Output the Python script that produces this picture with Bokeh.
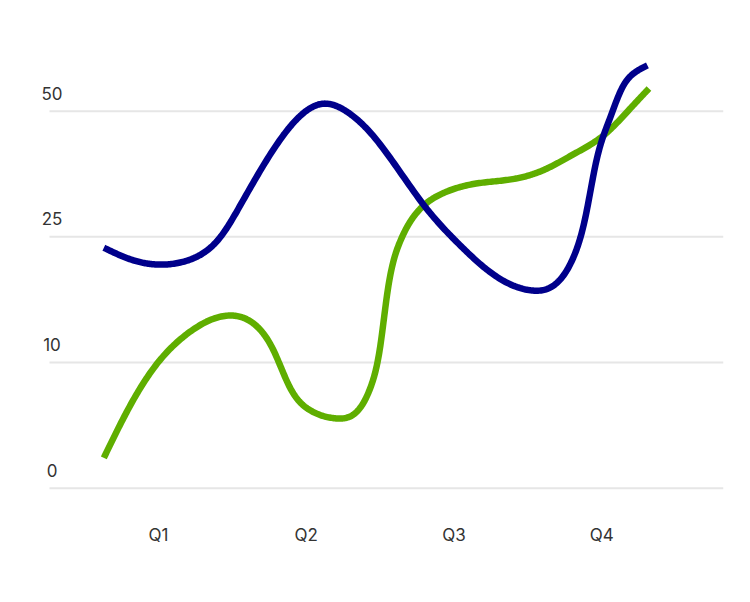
import numpy as np
from bokeh.plotting import figure
from bokeh.models import Range1d, LinearAxis, FixedTicker, Label
from bokeh.embed import file_html
from bokeh.resources import INLINE

# ---------------- data ----------------
quarter_ticks = [1, 2, 3, 4]
quarter_labels = ["Q1", "Q2", "Q3", "Q4"]
value_ticks = [0, 10, 25, 50]
value_labels = ["0", "10", "25", "50"]

blue_x = [0.63, 0.83, 0.99, 1.20, 1.33, 1.42, 1.56, 1.83, 1.98, 2.12, 2.27, 2.42, 2.81, 3.03, 3.26, 3.53, 3.69, 3.80, 3.89, 3.965, 4.05, 4.14, 4.23, 4.31]
blue_y = [23.7, 22.2, 21.7, 22.2, 23.4, 25.0, 31.6, 44.6, 49.6, 51.5, 50.0, 46.2, 30.8, 24.2, 20.6, 18.6, 19.4, 22.2, 28.9, 40.2, 48.1, 54.7, 57.8, 59.1]

green_x = [0.63, 0.79, 0.97, 1.20, 1.47, 1.64, 1.78, 1.89, 2.03, 2.21, 2.35, 2.44, 2.50, 2.55, 2.63, 2.76, 2.92, 3.15, 3.42, 3.60, 3.82, 4.03, 4.18, 4.32]
green_y = [2.42, 6.18, 9.60, 13.5, 15.6, 14.7, 11.4, 8.01, 6.18, 5.55, 6.18, 8.17, 11.8, 18.4, 24.2, 30.2, 33.6, 35.6, 36.6, 38.2, 41.6, 45.6, 50.1, 54.5]

BLUE = "#00008B"
GREEN = "#5FAE00"
TEXT = "#333333"
GRID = "#e6e6e6"
FONT = "Inter"


# value -> position on the evenly spaced value axis (0, 10, 25, 50 equally spaced)
def to_axis(v):
    v = np.asarray(v, dtype=float)
    t = np.asarray(value_ticks, dtype=float)
    out = np.interp(v, t, np.arange(len(t), dtype=float))
    hi = v > t[-1]
    out[hi] = len(t) - 1 + (v[hi] - t[-1]) / (t[-1] - t[-2])
    return out


def smooth(xs, ys, n=24):
    """natural cubic spline through the points, sampled for drawing"""
    xs = np.asarray(xs, float)
    ys = np.asarray(ys, float)
    N = len(xs)
    h = np.diff(xs)
    d = np.diff(ys) / h
    A = np.zeros((N, N))
    b = np.zeros(N)
    A[0, 0] = A[-1, -1] = 1.0
    for i in range(1, N - 1):
        A[i, i - 1] = h[i - 1]
        A[i, i] = 2 * (h[i - 1] + h[i])
        A[i, i + 1] = h[i]
        b[i] = 6 * (d[i] - d[i - 1])
    M = np.linalg.solve(A, b)
    ox, oy = [], []
    for i in range(N - 1):
        xx = np.linspace(xs[i], xs[i + 1], n, endpoint=False)
        a = xs[i + 1] - xx
        c = xx - xs[i]
        yy = (M[i] * a**3 + M[i + 1] * c**3) / (6 * h[i]) \
            + (ys[i] / h[i] - M[i] * h[i] / 6) * a \
            + (ys[i + 1] / h[i] - M[i + 1] * h[i] / 6) * c
        ox.extend(xx)
        oy.extend(yy)
    ox.append(xs[-1])
    oy.append(ys[-1])
    return ox, oy


# ---------------- figure ----------------
x0, x1 = -0.0697, 4.825     # plotting area (value labels live inside it)
grid_x0 = 0.262             # where the horizontal grid lines begin
y0, y1 = -0.1615, 3.658
p = figure(
    width=734, height=586,
    x_range=Range1d(x0, x1), y_range=Range1d(y0, y1),
    output_backend="svg", toolbar_location=None,
    x_axis_location=None, y_axis_location=None,
    min_border_left=0, min_border_right=11, min_border_top=28, min_border_bottom=78,
)
p.outline_line_color = None
p.background_fill_color = "white"
p.border_fill_color = "white"
p.xgrid.visible = False
p.ygrid.visible = False

tick_pos = list(range(len(value_ticks)))
p.segment(x0=[grid_x0] * len(tick_pos), x1=[x1] * len(tick_pos), y0=tick_pos, y1=tick_pos,
          line_color=GRID, line_width=2, level="underlay")

# value labels, centred just above their grid lines
for pos, txt in zip(tick_pos, value_labels):
    p.add_layout(Label(x=grid_x0, y=pos, text=txt,
                       x_offset=2.5, y_offset=18,
                       text_align="center", text_baseline="middle",
                       text_font=FONT, text_font_size="17px", text_color=TEXT))

xax = LinearAxis(
    ticker=FixedTicker(ticks=quarter_ticks),
    major_label_overrides={t: s for t, s in zip(quarter_ticks, quarter_labels)},
)
xax.axis_line_color = None
xax.major_tick_line_color = None
xax.minor_tick_line_color = None
xax.major_tick_out = 0
xax.major_tick_in = 0
xax.major_label_standoff = 16
xax.major_label_text_font = FONT
xax.major_label_text_font_size = "17px"
xax.major_label_text_color = TEXT
p.add_layout(xax, "below")

gx, gy = smooth(green_x, to_axis(green_y))
bx, by = smooth(blue_x, to_axis(blue_y))
p.line(gx, gy, line_color=GREEN, line_width=6.5, line_cap="butt", line_join="round")
p.line(bx, by, line_color=BLUE, line_width=6.5, line_cap="butt", line_join="round")

open("out.html", "w").write(file_html(p, INLINE))
